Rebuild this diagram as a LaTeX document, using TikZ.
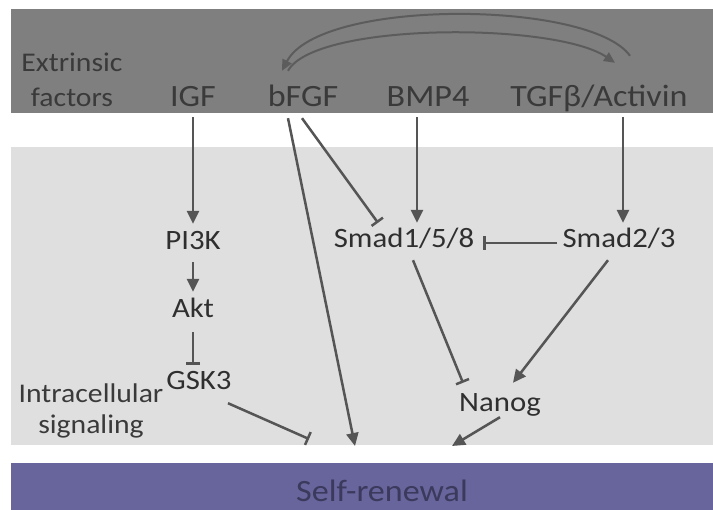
\documentclass[tikz,border=0pt]{standalone}
\usepackage{fontspec}
\setmainfont{Carlito}[FakeStretch=1.1]
\usepackage{xcolor}
\usepackage{tikz}
\usetikzlibrary{calc,arrows.meta}
\definecolor{topbg}{HTML}{7F7F7F}
\definecolor{midbg}{HTML}{DFDFDF}
\definecolor{lowbg}{HTML}{67659B}
\definecolor{toptext}{HTML}{3A3A3A}
\definecolor{midtext}{HTML}{2F2F2F}
\definecolor{lowtext}{HTML}{3B395C}
\definecolor{wire}{HTML}{555555}
\definecolor{loopwire}{HTML}{5C5C5C}
\tikzset{
  toplab/.style={text=toptext, font=\fontsize{31}{35}\selectfont, inner sep=0pt, text height=20pt, text depth=0pt, anchor=base},
  sidelab/.style={text=toptext, font=\fontsize{27}{35}\selectfont, align=center, inner sep=0pt},
  midlab/.style={text=midtext, font=\fontsize{28}{31}\selectfont, inner sep=0pt, text height=18pt, text depth=0pt, anchor=base},
  act/.style={draw=wire, line width=2.5pt, -{Triangle[length=13pt,width=12pt]}},
  inh/.style={draw=wire, line width=2.5pt, -{Bar[width=14pt]}},
  loopline/.style={draw=loopwire, line width=2pt, -{Triangle[length=11pt,width=10pt]}}
}

\begin{document}
\begin{tikzpicture}[x=1pt, y=-1pt]
  \useasboundingbox (0,0) rectangle (713,510);
  \fill[white] (0,0) rectangle (713,510);
  \fill[topbg] (11,9) rectangle (713,113);
  \fill[midbg] (11,147) rectangle (713,445);
  \fill[lowbg] (11,463) rectangle (713,510);

  % extrinsic factors
  \node[sidelab, anchor=base] (ext) at (72,107) {Extrinsic\\factors};
  \node[toplab] (igf) at (193,107) {IGF};
  \node[toplab] (fgf) at (303,107) {bFGF};
  \node[toplab] (bmp) at (428,107) {BMP4};
  \node[toplab] (tgf) at (599,107) {TGFβ/Activin};

  % intracellular signaling
  \node[sidelab, font=\fontsize{27}{31}\selectfont, anchor=base] (intra) at (91,434) {Intracellular\\signaling};
  \node[midlab] (pi3k) at (193,250) {PI3K};
  \node[midlab] (akt) at (193,318) {Akt};
  \node[midlab] (gsk) at (199,390) {GSK3};
  \node[midlab] (s158) at (404,248) {Smad1/5/8};
  \node[midlab] (s23) at (619,248) {Smad2/3};
  \node[midlab] (nanog) at (500,412) {Nanog};

  \node[text=lowtext, font=\fontsize{31}{35}\selectfont, inner sep=0pt, anchor=base] (self) at (382,502) {Self-renewal};
  \coordinate (srA) at (309,439);
  \coordinate (srB) at (355,446);
  \coordinate (srC) at (452,446);

  % loop between bFGF and TGFb/Activin
  \draw[loopline] ($(fgf.north)+(-15,-16)$) .. controls (315,22) and (555,22) .. ($(tgf.north)+(16,-24)$);
  \draw[loopline] ($(tgf.north)+(31,-31)$) .. controls (590,0) and (320,-2) .. ($(fgf.north)+(-21,-16)$);

  \draw[act] ($(igf.south)+(0,10)$) -- ($(pi3k.north)+(0,-8)$);
  \draw[act] ($(pi3k.south)+(0,12)$) -- ($(akt.north)+(0,-8)$);
  \draw[inh] ($(akt.south)+(0,14)$) -- ($(akt.south |- gsk.north)+(0,-7)$);
  \draw[inh] ($(gsk.south)+(29,13)$) -- (srA);
  \draw[act] ($(fgf.south)+(-15,11)$) -- (srB);
  \draw[inh] ($(fgf.south)+(-1,11)$) -- ($(s158.north)+(-26,-7)$);
  \draw[act] ($(bmp.south)+(-11,10)$) -- ($(s158.north)+(13,-7)$);
  \draw[act] ($(tgf.south)+(24,10)$) -- ($(s23.north)+(4,-7)$);
  \draw[inh] ($(s23.west)+(-5,4)$) -- ($(s158.east)+(9,4)$);
  \draw[inh] ($(s158.south)+(9,12)$) -- ($(nanog.north)+(-37,-11)$);
  \draw[act] ($(s23.south)+(-11,12)$) -- ($(nanog.north)+(13,-11)$);
  \draw[act] ($(nanog.south)+(0,5)$) -- (srC);
\end{tikzpicture}
\end{document}
